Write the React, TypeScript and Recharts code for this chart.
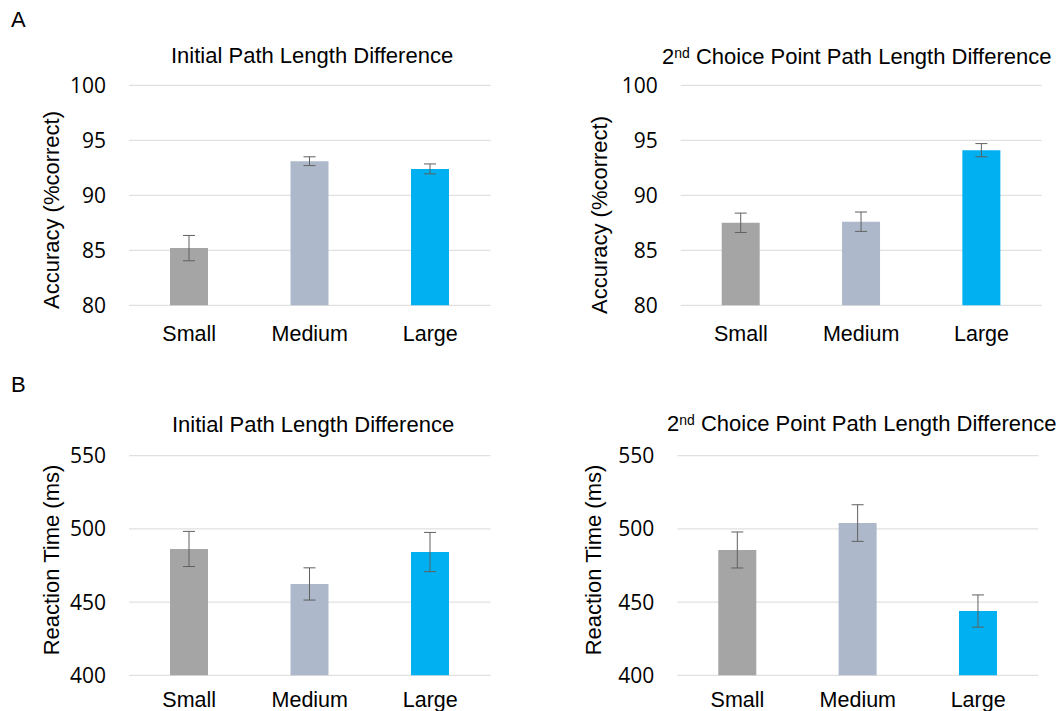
import { Bar, BarChart, CartesianGrid, Cell, ErrorBar, XAxis, YAxis } from "recharts";

const categories = ["Small", "Medium", "Large"];
const barColors = ["#A5A5A5", "#ADB9CA", "#00B0F0"];

// accuracy, % correct (mean and error)
const accInitial = [85.2, 93.1, 92.4];
const accInitialErr = [1.15, 0.4, 0.45];
const accSecond = [87.5, 87.6, 94.1];
const accSecondErr = [0.88, 0.88, 0.6];

// reaction time, ms (mean and error)
const rtInitial = [486.3, 462.4, 484.2];
const rtInitialErr = [12, 11, 13.4];
const rtSecond = [485.6, 504, 443.9];
const rtSecondErr = [12.3, 12.5, 11];

const accTicks = [80, 85, 90, 95, 100];
const rtTicks = [400, 450, 500, 550];

const toRows = (values: number[], errs: number[]) =>
  categories.map((name, i) => ({ name, value: values[i], err: errs[i] }));

const ARIAL = "'Liberation Sans', Arial, sans-serif";

interface PanelProps {
  data: { name: string; value: number; err: number }[];
  ticks: number[];
  left: number;
  top: number;
  width: number;
  height: number;
  plotLeft: number;
  plotRight: number;
  plotTop: number;
  plotBottom: number;
  xAxisHeight: number;
  xTickMargin: number;
}

function Panel(p: PanelProps) {
  const marginTop = p.plotTop - p.top;
  const marginRight = p.left + p.width - p.plotRight;
  const marginBottom = p.top + p.height - p.plotBottom - p.xAxisHeight;
  return (
    <div style={{ position: "absolute", left: p.left, top: p.top }}>
      <BarChart
        width={p.width}
        height={p.height}
        data={p.data}
        margin={{ top: marginTop, right: marginRight, bottom: marginBottom, left: 0 }}
      >
        <CartesianGrid stroke="#D9D9D9" vertical={false} />
        <XAxis
          dataKey="name"
          axisLine={false}
          tickLine={false}
          height={p.xAxisHeight}
          tickMargin={p.xTickMargin}
          interval={0}
          tick={{ fontSize: 21.5, fill: "#000", fontFamily: ARIAL }}
        />
        <YAxis
          type="number"
          domain={[p.ticks[0], p.ticks[p.ticks.length - 1]]}
          ticks={p.ticks}
          width={p.plotLeft - p.left}
          axisLine={false}
          tickLine={false}
          tickMargin={17}
          tick={{ fontSize: 21, fill: "#000", fontFamily: "'Open Sans', sans-serif" }}
        />
        <Bar dataKey="value" barSize={38} isAnimationActive={false}>
          {p.data.map((d, i) => (
            <Cell key={d.name} fill={barColors[i]} />
          ))}
          <ErrorBar
            dataKey="err"
            direction="y"
            width={6}
            stroke="#606060"
            strokeWidth={1}
            isAnimationActive={false}
          />
        </Bar>
      </BarChart>
    </div>
  );
}

function SecondTitle({ x, y }: { x: number; y: number }) {
  return (
    <text x={x} y={y} fontSize={22} fontFamily={ARIAL} fill="#000">
      2
      <tspan fontSize={14} dy={-6}>
        nd
      </tspan>
      <tspan dy={6}> Choice Point Path Length Difference</tspan>
    </text>
  );
}

export default function App() {
  return (
    <div
      style={{ position: "absolute", left: 0, top: 0, width: 1064, height: 711, background: "#fff" }}
    >
      <Panel
        data={toRows(accInitial, accInitialErr)}
        ticks={accTicks}
        left={0}
        top={0}
        width={500}
        height={355}
        plotLeft={129}
        plotRight={490.5}
        plotTop={85.3}
        plotBottom={305.3}
        xAxisHeight={45}
        xTickMargin={14}
      />
      <Panel
        data={toRows(accSecond, accSecondErr)}
        ticks={accTicks}
        left={540}
        top={0}
        width={515}
        height={355}
        plotLeft={680.7}
        plotRight={1041.7}
        plotTop={85.3}
        plotBottom={305.3}
        xAxisHeight={45}
        xTickMargin={14}
      />
      <Panel
        data={toRows(rtInitial, rtInitialErr)}
        ticks={rtTicks}
        left={0}
        top={360}
        width={500}
        height={351}
        plotLeft={129}
        plotRight={490.5}
        plotTop={455.7}
        plotBottom={675.3}
        xAxisHeight={35}
        xTickMargin={10}
      />
      <Panel
        data={toRows(rtSecond, rtSecondErr)}
        ticks={rtTicks}
        left={540}
        top={360}
        width={510}
        height={351}
        plotLeft={677.3}
        plotRight={1038.3}
        plotTop={455.7}
        plotBottom={675.3}
        xAxisHeight={35}
        xTickMargin={10}
      />

      {/* panel letters, titles and axis titles */}
      <svg
        width={1064}
        height={711}
        style={{ position: "absolute", left: 0, top: 0, pointerEvents: "none" }}
      >
        <g fontFamily={ARIAL} fill="#000">
          <text x={11} y={26.5} fontSize={22}>A</text>
          <text x={11} y={391.5} fontSize={22}>B</text>

          <text x={171} y={63.3} fontSize={22}>Initial Path Length Difference</text>
          <text x={172} y={432} fontSize={22}>Initial Path Length Difference</text>

          <text transform="translate(59,210) rotate(-90)" textAnchor="middle" fontSize={22}>
            Accuracy (%correct)
          </text>
          <text transform="translate(606.5,215) rotate(-90)" textAnchor="middle" fontSize={22}>
            Accuracy (%correct)
          </text>
          <text transform="translate(59,560) rotate(-90)" textAnchor="middle" fontSize={22}>
            Reaction Time (ms)
          </text>
          <text transform="translate(601,560) rotate(-90)" textAnchor="middle" fontSize={22}>
            Reaction Time (ms)
          </text>
        </g>
        <SecondTitle x={662} y={63.5} />
        <SecondTitle x={667} y={431} />
      </svg>
    </div>
  );
}
